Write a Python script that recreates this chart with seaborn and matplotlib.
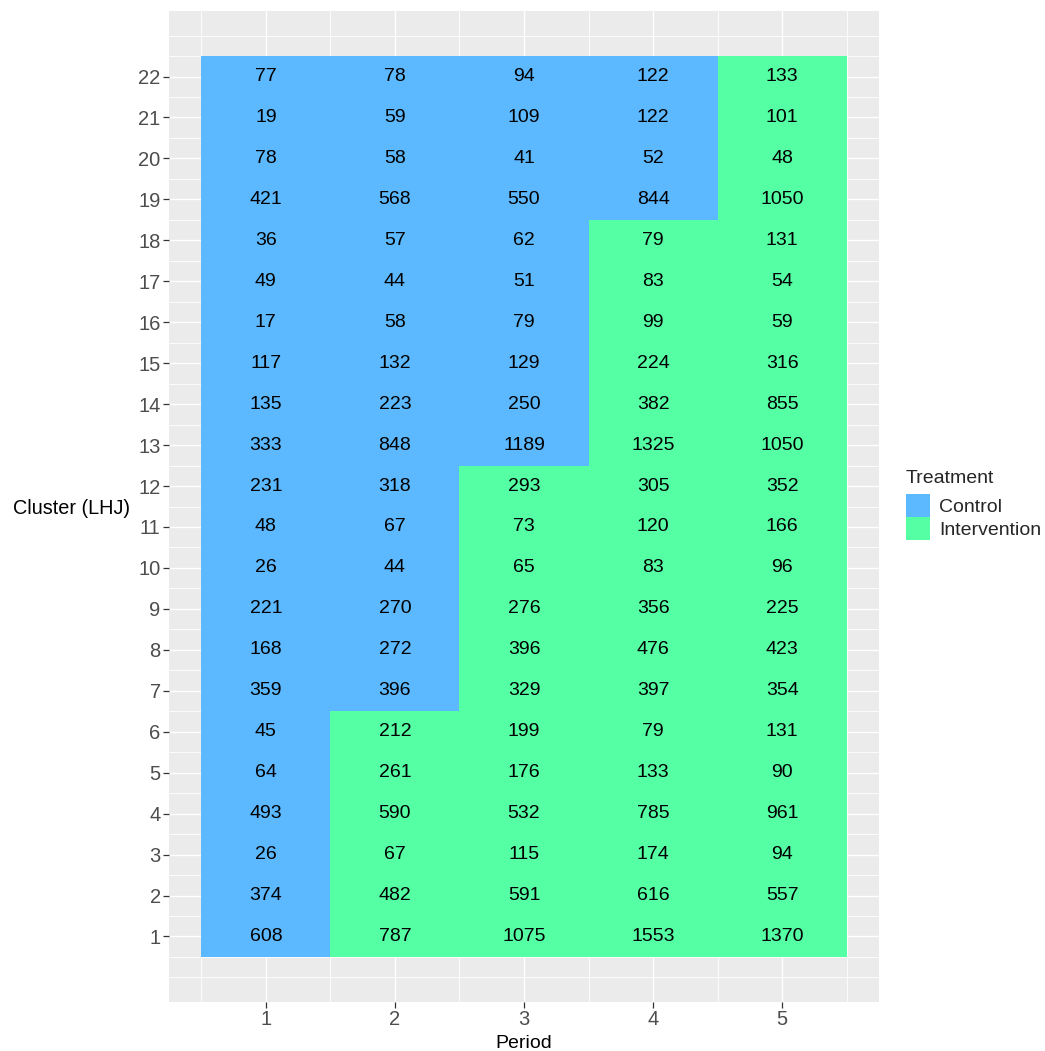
import numpy as np
import pandas as pd
import matplotlib
matplotlib.use("Agg")
import matplotlib.pyplot as plt
from matplotlib.patches import Patch
import seaborn as sns

# Stepped-wedge design: counts per cluster (LHJ) and period
clusters = list(range(1, 23))
periods = [1, 2, 3, 4, 5]
# first period in which each cluster receives the intervention
crossover = [2, 2, 2, 2, 2, 2, 3, 3, 3, 3, 3, 3, 4, 4, 4, 4, 4, 4, 5, 5, 5, 5]
p1 = [608, 374, 26, 493, 64, 45, 359, 168, 221, 26, 48, 231, 333, 135, 117, 17, 49, 36, 421, 78, 19, 77]
p2 = [787, 482, 67, 590, 261, 212, 396, 272, 270, 44, 67, 318, 848, 223, 132, 58, 44, 57, 568, 58, 59, 78]
p3 = [1075, 591, 115, 532, 176, 199, 329, 396, 276, 65, 73, 293, 1189, 250, 129, 79, 51, 62, 550, 41, 109, 94]
p4 = [1553, 616, 174, 785, 133, 79, 397, 476, 356, 83, 120, 305, 1325, 382, 224, 99, 83, 79, 844, 52, 122, 122]
p5 = [1370, 557, 94, 961, 90, 131, 354, 423, 225, 96, 166, 352, 1050, 855, 316, 59, 54, 131, 1050, 48, 101, 133]

rows = []
for i, c in enumerate(clusters):
    for p, vals in zip(periods, [p1, p2, p3, p4, p5]):
        rows.append({"Cluster": c, "Period": p, "n": vals[i],
                     "Treatment": "Intervention" if p >= crossover[i] else "Control"})
df = pd.DataFrame(rows)

palette = {"Control": "#5CB8FF", "Intervention": "#55FFA4"}

sns.set_theme(style="darkgrid", rc={
    "axes.facecolor": "#EBEBEB",
    "grid.color": "white",
})
plt.rcParams["font.family"] = ["Liberation Sans", "DejaVu Sans"]

fig = plt.figure(figsize=(10.45, 10.51), dpi=100)
ax = fig.add_axes([169 / 1045, 1 - 1002 / 1051, 710 / 1045, 991 / 1051])

for trt, sub in df.groupby("Treatment"):
    ax.bar(sub["Period"], height=1.0, bottom=sub["Cluster"] - 0.5, width=1.0,
           color=palette[trt], linewidth=0, zorder=2)

for _, r in df.iterrows():
    ax.text(r["Period"], r["Cluster"], str(r["n"]), ha="center", va="center",
            fontsize=14, color="black", zorder=3)

ax.set_xlim(0.25, 5.75)
ax.set_ylim(-0.6, 23.6)
ax.set_xticks(periods)
ax.set_xticks(np.arange(0.5, 5.6, 1.0), minor=True)
ax.set_yticks(clusters)
ax.set_yticks(np.arange(0, 23.1, 0.5), minor=True)
ax.grid(which="major", color="white", linewidth=1.0)
ax.grid(which="minor", color="white", linewidth=0.6)
ax.set_axisbelow(True)
for s in ax.spines.values():
    s.set_visible(False)

ax.tick_params(which="major", length=4, width=0.9, color="#333333",
               labelsize=14.5, labelcolor="#4D4D4D", pad=2)
ax.tick_params(which="minor", length=0)
ax.tick_params(axis="x", bottom=True, left=False)
ax.tick_params(axis="y", left=True, bottom=False)

ax.set_xlabel("Period", fontsize=14, color="black", labelpad=4)
ax.set_ylabel("Cluster (LHJ)", fontsize=14.3, color="black", rotation=0,
              ha="center", va="center")
ax.yaxis.set_label_coords(-97 / 710, 0.5 + (506 - 508) / 991)

handles = [Patch(facecolor=palette[k], edgecolor="none", label=k)
           for k in ["Control", "Intervention"]]
leg = fig.legend(handles=handles, title="Treatment", loc="upper left",
                 bbox_to_anchor=(896 / 1045, 1 - 460 / 1051), frameon=False,
                 fontsize=14, title_fontsize=14, handlelength=1.25,
                 handleheight=1.45, handletextpad=0.45, labelspacing=0.0,
                 borderaxespad=0, borderpad=0.5)
leg._legend_box.align = "left"
leg._legend_box.sep = 5

fig.savefig("out.png", dpi=100)
